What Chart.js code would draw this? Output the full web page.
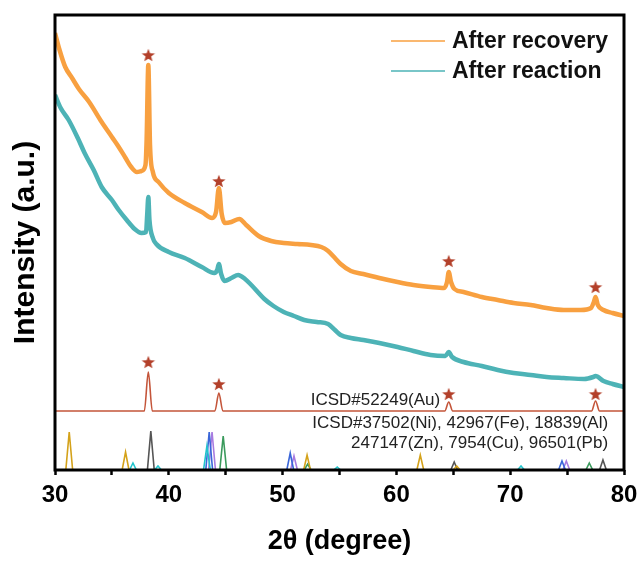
<!DOCTYPE html>
<html>
<head>
<meta charset="utf-8">
<script src="https://cdn.jsdelivr.net/npm/chart.js@4.4.1/dist/chart.umd.min.js"></script>
<style>
  html, body { margin: 0; padding: 0; background: #fff; }
</style>
</head>
<body>
<canvas id="xrdChart" width="639" height="561"></canvas>
<script>
// ─── DATA ──────────────────────────────────────────────
const xTicks = [30, 40, 50, 60, 70, 80];

// After recovery (orange)
const recoveryTheta = [30.0, 30.4, 30.9, 31.5, 32.1, 33.0, 34.1, 35.0, 35.6, 36.2, 36.7, 37.2, 37.6, 37.95, 38.05, 38.2, 38.35, 38.6, 39.1, 40.0, 41.4, 42.9, 43.8, 44.15, 44.4, 44.65, 44.95, 45.5, 46.2, 46.8, 47.9, 49.0, 50.1, 51.3, 52.5, 53.4, 54.0, 54.6, 55.1, 56.0, 57.1, 58.5, 60.1, 61.5, 63.0, 64.2, 64.45, 64.6, 64.8, 65.1, 65.9, 67.5, 68.9, 70.3, 71.8, 73.2, 74.7, 76.2, 77.1, 77.35, 77.5, 77.7, 78.2, 79.0, 80.0];
const recoveryInt = [437, 420, 403, 392, 381, 368, 348, 333, 323, 312, 303, 298, 299, 305, 330, 405, 325, 298, 288, 277, 267, 258, 252, 258, 282, 256, 247, 248, 251, 245, 234, 229, 227, 226, 225, 223, 219, 212, 206, 199, 196, 192, 188, 185, 183, 182, 188, 198, 188, 181, 178, 173, 170, 167, 165, 162, 160, 160, 162, 168, 173, 165, 160, 157, 154];

// After reaction (teal)
const reactionTheta = [30.0, 30.5, 31.2, 32.0, 32.6, 33.4, 34.1, 35.0, 35.6, 36.3, 37.0, 37.6, 38.0, 38.1, 38.2, 38.3, 38.6, 38.9, 40.0, 41.4, 42.9, 44.0, 44.25, 44.4, 44.6, 44.9, 45.5, 46.1, 46.7, 47.25, 48.4, 49.2, 50.1, 51.0, 51.9, 53.0, 54.0, 54.6, 55.1, 56.0, 57.1, 58.5, 60.1, 61.5, 63.0, 64.3, 64.6, 64.9, 65.9, 67.5, 68.9, 70.3, 71.8, 73.2, 74.7, 76.5, 77.3, 77.5, 78.2, 79.0, 80.0];
const reactionInt = [375, 362, 350, 332, 317, 300, 283, 270, 260, 250, 241, 237, 238, 255, 273, 250, 232, 226, 218, 212, 203, 197, 200, 206, 196, 189, 192, 195, 191, 185, 171, 164, 158, 154, 150, 148, 146, 140, 135, 132, 130, 127, 123, 119, 115, 114, 118, 113, 108, 104, 100, 97, 95, 93, 92, 91, 93, 94, 89, 86, 83];

// ICSD#52249 (Au) reference, offset above the bottom patterns
const auPeaks = [38.2, 44.4, 64.6, 77.5];
const auHeights = [39, 18, 9, 10];
const auBase = 59;

// star markers over the Au reflections
const starUpper = [415, 289, 209, 183];
const starLower = [108, 86, 76, 76];

// bottom reference patterns
const pbPeaks = [31.25, 36.2, 52.15, 62.1, 65.3];
const pbHeights = [38, 18, 15, 15, 4];
const znPeaks = [36.85, 39.05, 43.35, 54.8, 70.95];
const znHeights = [7, 4, 24, 3, 4];
const alPeaks = [38.42, 65.08, 78.15];
const alHeights = [39, 8, 10];
const cuPeaks = [43.55, 50.67, 74.55];
const cuHeights = [38, 17, 9];
const fePeaks = [43.8, 51.0, 74.93];
const feHeights = [38, 14, 9];
const niPeaks = [44.78, 52.2, 76.95];
const niHeights = [34, 6, 7];

const refLabels = [
  'ICSD#52249(Au)',
  'ICSD#37502(Ni), 42967(Fe), 18839(Al)',
  '247147(Zn), 7954(Cu), 96501(Pb)'
];

// ─── HELPERS ───────────────────────────────────────────
const toPoints = (xs, ys) => xs.map((x, i) => ({ x, y: ys[i] }));

// separate little peaks, gap between them so nothing runs along the axis
const stickPoints = (pos, hts) => {
  const pts = [];
  pos.forEach((p, i) => {
    pts.push({ x: p - 0.3, y: 0 }, { x: p, y: hts[i] }, { x: p + 0.3, y: 0 }, { x: p + 0.3, y: null });
  });
  return pts;
};

// continuous baseline with peaks
const offsetPattern = (pos, hts, base) => {
  const pts = [{ x: 30, y: base }];
  pos.forEach((p, i) => {
    pts.push({ x: p - 0.35, y: base }, { x: p, y: base + hts[i] }, { x: p + 0.35, y: base });
  });
  pts.push({ x: 80, y: base });
  return pts;
};

const makeStar = (color, r) => {
  const c = document.createElement('canvas');
  const s = Math.ceil(r * 2 + 2);
  c.width = s; c.height = s;
  const g = c.getContext('2d');
  g.translate(s / 2, s / 2 + r * 0.1);
  g.beginPath();
  for (let i = 0; i < 10; i++) {
    const rad = i % 2 ? r * 0.42 : r;
    const a = -Math.PI / 2 + i * Math.PI / 5;
    g.lineTo(Math.cos(a) * rad, Math.sin(a) * rad);
  }
  g.closePath();
  g.fillStyle = color;
  g.fill();
  return c;
};

const starImg = makeStar('#b3402a', 7);
const FONT = '"Liberation Sans", Arial, sans-serif';

const stick = (label, pos, hts, color) => ({
  label, data: stickPoints(pos, hts), borderColor: color, borderWidth: 1.6,
  pointRadius: 0, tension: 0, spanGaps: false, order: 3
});

// ─── PLUGINS ───────────────────────────────────────────
const framePlugin = {
  id: 'frame',
  afterDatasetsDraw(chart) {
    const { ctx, chartArea: a, scales } = chart;
    ctx.save();
    ctx.strokeStyle = '#000';
    ctx.lineWidth = 3;
    ctx.strokeRect(a.left, a.top, a.right - a.left, a.bottom - a.top);

    // reference labels
    ctx.fillStyle = '#222';
    ctx.font = `17px ${FONT}`;
    ctx.textAlign = 'right';
    ctx.textBaseline = 'middle';
    ctx.fillText(refLabels[0], scales.x.getPixelForValue(63.85), scales.y.getPixelForValue(70));
    ctx.fillText(refLabels[1], scales.x.getPixelForValue(78.6), scales.y.getPixelForValue(47));
    ctx.fillText(refLabels[2], scales.x.getPixelForValue(78.6), scales.y.getPixelForValue(27));

    // legend
    ctx.font = `bold 23px ${FONT}`;
    ctx.textAlign = 'left';
    chart.data.datasets.filter(d => d.inLegend).forEach((d, i) => {
      const y = a.top + 26 + i * 30;
      ctx.strokeStyle = d.borderColor;
      ctx.lineWidth = 1.5;
      ctx.beginPath();
      ctx.moveTo(a.right - 233, y);
      ctx.lineTo(a.right - 179, y);
      ctx.stroke();
      ctx.fillStyle = '#111';
      ctx.fillText(d.label, a.right - 172, y + 1);
    });
    ctx.restore();
  }
};

// ─── CHART ─────────────────────────────────────────────
new Chart(document.getElementById('xrdChart'), {
  type: 'line',
  data: {
    datasets: [
      {
        type: 'scatter', label: 'stars', order: 0,
        data: toPoints(auPeaks, starUpper).concat(toPoints(auPeaks, starLower)),
        pointStyle: starImg, showLine: false
      },
      {
        label: 'After recovery', inLegend: true, order: 1,
        data: toPoints(recoveryTheta, recoveryInt),
        borderColor: '#f8a040', borderWidth: 4.5, pointRadius: 0,
        cubicInterpolationMode: 'monotone'
      },
      {
        label: 'After reaction', inLegend: true, order: 1,
        data: toPoints(reactionTheta, reactionInt),
        borderColor: '#4db3b6', borderWidth: 4.5, pointRadius: 0,
        cubicInterpolationMode: 'monotone'
      },
      {
        label: 'Au', order: 2,
        data: offsetPattern(auPeaks, auHeights, auBase),
        borderColor: '#c4553a', borderWidth: 1.6, pointRadius: 0,
        cubicInterpolationMode: 'monotone'
      },
      stick('Pb', pbPeaks, pbHeights, '#d4a21a'),
      stick('Zn', znPeaks, znHeights, '#22c4cc'),
      stick('Al', alPeaks, alHeights, '#555555'),
      stick('Cu', cuPeaks, cuHeights, '#3a66d8'),
      stick('Fe', fePeaks, feHeights, '#a77be0'),
      stick('Ni', niPeaks, niHeights, '#3a9a5c')
    ]
  },
  options: {
    responsive: false,
    animation: false,
    layout: { padding: { top: 15, right: 15, left: 0, bottom: 0 } },
    plugins: {
      legend: { display: false },
      tooltip: { enabled: false }
    },
    scales: {
      x: {
        type: 'linear', min: 30, max: 80,
        afterFit: s => { s.height = 91; s.paddingLeft = 0; s.paddingRight = 0; },
        afterBuildTicks: s => {
          s.ticks = [];
          for (let v = 30; v <= 80; v += 5) s.ticks.push({ value: v });
        },
        ticks: {
          autoSkip: false, maxRotation: 0, padding: 6, color: '#000',
          font: { family: FONT, size: 24, weight: 'bold' },
          callback: v => (xTicks.includes(v) ? v : '')
        },
        grid: {
          drawOnChartArea: false, drawTicks: true, tickLength: 5,
          tickWidth: 2.5, tickColor: '#000'
        },
        border: { display: false },
        title: {
          display: true, text: '2θ (degree)', color: '#000',
          font: { family: FONT, size: 27, weight: 'bold' },
          padding: { top: 0, bottom: 3 }
        }
      },
      y: {
        min: 0, max: 455,
        afterFit: s => { s.width = 55; },
        ticks: { display: false },
        grid: { display: false },
        border: { display: false },
        title: {
          display: true, text: 'Intensity (a.u.)', color: '#000',
          font: { family: FONT, size: 30, weight: 'bold' },
          padding: { top: 8, bottom: 0 }
        }
      }
    }
  },
  plugins: [framePlugin]
});
</script>
</body>
</html>
